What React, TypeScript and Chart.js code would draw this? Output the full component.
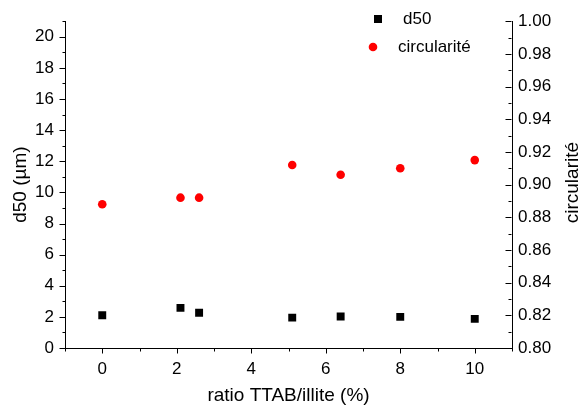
import React, { useEffect, useRef } from "react";
import { Chart, registerables } from "chart.js";

Chart.register(...registerables);

// ---- data ----
const ratios = [0, 2.1, 2.6, 5.1, 6.4, 8, 10];
const d50 = [2.1, 2.58, 2.27, 1.95, 2.02, 2.0, 1.87];
const circularite = [0.888, 0.892, 0.892, 0.912, 0.906, 0.91, 0.915];

const xMajorTicks = [0, 2, 4, 6, 8, 10];
const xMinorTicks = [-1, 1, 3, 5, 7, 9, 11];
const d50MajorTicks = [0, 2, 4, 6, 8, 10, 12, 14, 16, 18, 20];
const d50MinorTicks = [1, 3, 5, 7, 9, 11, 13, 15, 17, 19, 21];
const circMajorTicks = [0.8, 0.82, 0.84, 0.86, 0.88, 0.9, 0.92, 0.94, 0.96, 0.98, 1.0];
const circMinorTicks = [0.81, 0.83, 0.85, 0.87, 0.89, 0.91, 0.93, 0.95, 0.97, 0.99];

const seriesLabels = ["d50", "circularité"];
const xTitle = "ratio TTAB/illite (%)";
const yLeftTitle = "d50 (µm)";
const yRightTitle = "circularité";

const FONT = "'Liberation Sans', Arial, Helvetica, sans-serif";
const INK = "#000000";

const tickPlugin = {
  id: "customTicks",
  afterDraw(chart: any) {
    const ctx = chart.ctx;
    const x = chart.scales.x;
    const yl = chart.scales.y;
    const yr = chart.scales.y1;
    const area = chart.chartArea;
    ctx.save();
    ctx.strokeStyle = INK;
    ctx.lineWidth = 1;
    ctx.beginPath();
    // x ticks (outward, down)
    const xb = Math.round(area.bottom) + 0.5;
    xMajorTicks.forEach((v) => {
      const px = Math.round(x.getPixelForValue(v)) + 0.5;
      ctx.moveTo(px, xb);
      ctx.lineTo(px, xb + 5);
    });
    xMinorTicks.forEach((v) => {
      const px = Math.round(x.getPixelForValue(v)) + 0.5;
      ctx.moveTo(px, xb);
      ctx.lineTo(px, xb + 3);
    });
    // left ticks (outward)
    const xl = Math.round(area.left) + 0.5;
    d50MajorTicks.forEach((v) => {
      const py = Math.round(yl.getPixelForValue(v)) + 0.5;
      ctx.moveTo(xl, py);
      ctx.lineTo(xl - 6, py);
    });
    d50MinorTicks.forEach((v) => {
      const py = Math.round(yl.getPixelForValue(v)) + 0.5;
      ctx.moveTo(xl, py);
      ctx.lineTo(xl - 3, py);
    });
    // right ticks (inward)
    const xr = Math.round(area.right) - 0.5;
    circMajorTicks.forEach((v) => {
      const py = Math.round(yr.getPixelForValue(v)) + 0.5;
      ctx.moveTo(xr, py);
      ctx.lineTo(xr - 6, py);
    });
    circMinorTicks.forEach((v) => {
      const py = Math.round(yr.getPixelForValue(v)) + 0.5;
      ctx.moveTo(xr, py);
      ctx.lineTo(xr - 3, py);
    });
    ctx.stroke();

    // right axis title (rotated bottom-to-top)
    ctx.fillStyle = INK;
    ctx.font = `19px ${FONT}`;
    ctx.textAlign = "center";
    ctx.textBaseline = "middle";
    ctx.save();
    ctx.translate(573, (area.top + area.bottom) / 2 - 2);
    ctx.rotate(-Math.PI / 2);
    ctx.fillText(yRightTitle, 0, 0);
    ctx.restore();

    // legend
    ctx.font = `17px ${FONT}`;
    ctx.textAlign = "left";
    ctx.textBaseline = "middle";
    ctx.fillStyle = "#000000";
    ctx.fillRect(374, 15, 8, 8);
    ctx.fillText(seriesLabels[0], 403, 19);
    ctx.fillStyle = "#ff0000";
    ctx.beginPath();
    ctx.arc(373, 47, 4.3, 0, Math.PI * 2);
    ctx.fill();
    ctx.fillStyle = INK;
    ctx.fillText(seriesLabels[1], 398, 47);
    ctx.restore();
  },
};

export default function App() {
  const ref = useRef<HTMLCanvasElement | null>(null);
  useEffect(() => {
    if (!ref.current) return;
    const chart = new Chart(ref.current, {
      type: "scatter",
      data: {
        datasets: [
          {
            label: seriesLabels[0],
            data: ratios.map((r, i) => ({ x: r, y: d50[i] })),
            yAxisID: "y",
            pointStyle: "rect",
            pointRadius: 5.6,
            pointHoverRadius: 5.6,
            backgroundColor: "#000000",
            borderColor: "#000000",
            borderWidth: 0,
          },
          {
            label: seriesLabels[1],
            data: ratios.map((r, i) => ({ x: r, y: circularite[i] })),
            yAxisID: "y1",
            pointStyle: "circle",
            pointRadius: 4.3,
            pointHoverRadius: 4.3,
            backgroundColor: "#ff0000",
            borderColor: "#ff0000",
            borderWidth: 0,
          },
        ],
      },
      options: {
        responsive: false,
        animation: false,
        events: [],
        layout: { padding: { top: 18, left: 0, right: 0, bottom: 0 } },
        plugins: {
          legend: { display: false },
          tooltip: { enabled: false },
        },
        scales: {
          x: {
            type: "linear",
            min: -1,
            max: 11,
            grid: { display: false, drawTicks: false },
            border: { display: true, color: INK, width: 1 },
            afterBuildTicks: (s: any) => {
              s.ticks = xMajorTicks.map((v) => ({ value: v }));
            },
            afterFit: (s: any) => {
              s.height = 57;
            },
            ticks: {
              padding: 11,
              color: INK,
              font: { family: FONT, size: 17 },
              maxRotation: 0,
              autoSkip: false,
            },
            title: {
              display: true,
              text: xTitle,
              color: INK,
              font: { family: FONT, size: 19 },
              padding: { top: 0, bottom: -2 },
            },
          },
          y: {
            type: "linear",
            position: "left",
            min: 0,
            max: 21,
            grid: { display: false, drawTicks: false },
            border: { display: true, color: INK, width: 1 },
            afterBuildTicks: (s: any) => {
              s.ticks = d50MajorTicks.map((v) => ({ value: v }));
            },
            afterFit: (s: any) => {
              s.width = 65;
            },
            ticks: {
              padding: 11,
              color: INK,
              font: { family: FONT, size: 17 },
              autoSkip: false,
            },
            title: {
              display: true,
              text: yLeftTitle,
              color: INK,
              font: { family: FONT, size: 19 },
              padding: { top: 9, bottom: 0 },
            },
          },
          y1: {
            type: "linear",
            position: "right",
            min: 0.8,
            max: 1.0,
            grid: { display: false, drawTicks: false },
            border: { display: true, color: INK, width: 1 },
            afterBuildTicks: (s: any) => {
              s.ticks = circMajorTicks.map((v) => ({ value: v }));
            },
            afterFit: (s: any) => {
              s.width = 67;
            },
            ticks: {
              padding: 6,
              color: INK,
              font: { family: FONT, size: 17 },
              autoSkip: false,
              callback: (v: any) => Number(v).toFixed(2),
            },
          },
        },
      },
      plugins: [tickPlugin],
    });
    return () => chart.destroy();
  }, []);
  return (
    <div style={{ position: "absolute", left: 0, top: 0, width: 579, height: 405, background: "#fff" }}>
      <canvas ref={ref} width={579} height={405} />
    </div>
  );
}
